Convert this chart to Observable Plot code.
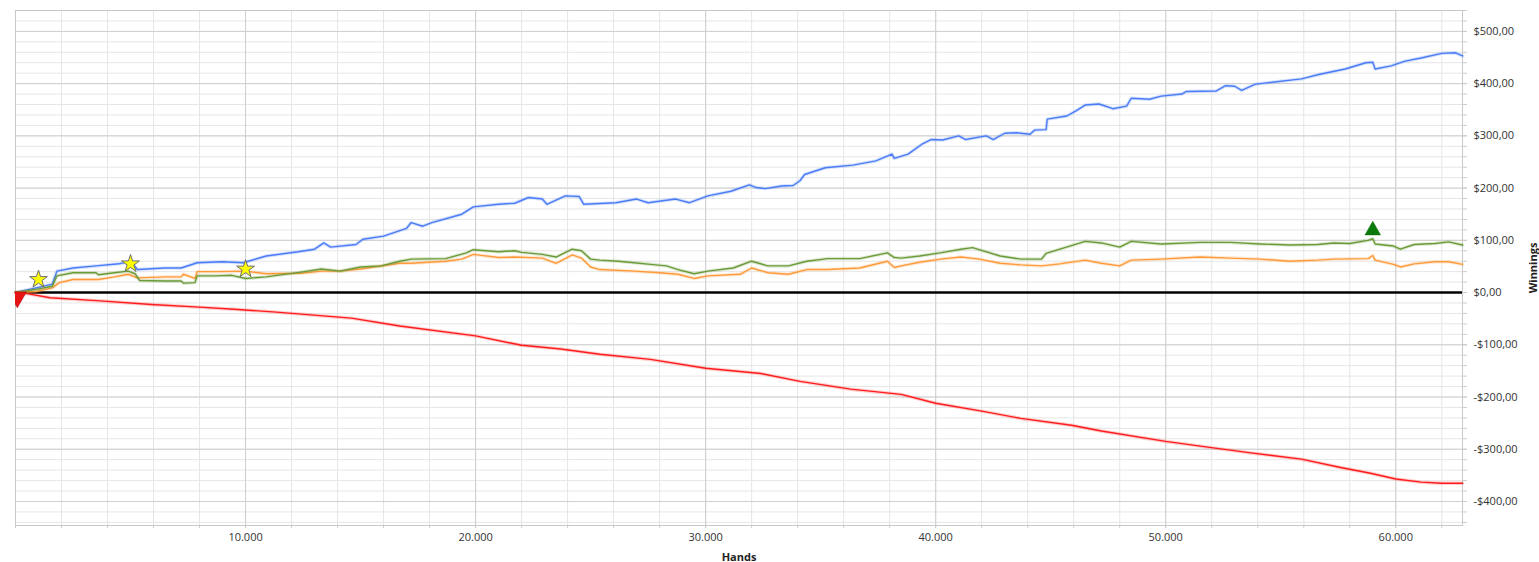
<!DOCTYPE html>
<html>
<head>
<meta charset="utf-8">
<script src="https://cdn.jsdelivr.net/npm/d3@7"></script>
<script src="https://cdn.jsdelivr.net/npm/@observablehq/plot@0.6"></script>
<style>
  html, body { margin: 0; padding: 0; background: #ffffff; overflow: hidden; }
</style>
</head>
<body>
<div id="chart"></div>
<script>
// Hands (thousands) and winnings ($)
const blueHands = [0,0.9,1.6,1.8,2.5,3.5,4.5,5.0,5.3,6.5,7.2,7.9,9.0,9.9,10.9,12.3,13.0,13.4,13.7,14.8,15.1,16.0,17.0,17.2,17.7,18.1,19.4,19.9,21.0,21.7,22.3,22.9,23.1,23.9,24.5,24.7,26.1,27.0,27.5,28.7,29.3,30.1,31.1,31.9,32.2,32.6,33.3,33.8,34.1,34.3,35.2,36.4,37.4,38.1,38.2,38.8,39.4,39.8,40.3,41.0,41.3,42.2,42.5,43.0,43.5,44.1,44.3,44.8,44.85,45.7,46.1,46.5,47.1,47.7,48.3,48.5,49.3,49.8,50.7,50.9,52.2,52.6,53.0,53.3,53.9,54.3,55.9,56.7,57.8,58.7,59.0,59.1,59.8,60.4,61.1,62.0,62.6,62.9];
const blueValues = [0,9,16,41,47,51,55,60,44,47,47,57,59,57,70,78,83,95,87,92,102,108,123,134,127,134,150,164,169,171,182,179,169,185,184,169,172,179,172,179,172,185,194,206,201,199,204,205,214,226,239,244,252,265,257,265,284,293,292,300,293,300,293,305,306,303,311,312,332,338,348,359,361,352,357,372,370,376,380,385,386,396,395,387,399,401,409,418,428,440,441,428,434,443,449,458,459,453];

const greenHands = [0,0.9,1.6,1.8,2.5,3.5,3.6,4.3,4.9,5.2,5.4,6.5,7.2,7.3,7.8,7.9,8.7,9.4,10.0,10.9,12.4,13.3,14.1,15.0,15.9,16.7,17.2,18.7,19.6,19.9,21.0,21.7,22.0,22.9,23.5,24.2,24.6,25.0,25.4,26.2,26.9,27.6,28.3,28.8,29.5,30.1,31.2,32.0,32.7,33.6,34.4,35.3,36.7,37.9,38.2,38.5,39.3,40.2,41.1,41.6,42.8,43.7,44.6,44.8,45.4,46.5,47.2,48.0,48.5,49.8,51.5,52.8,54.1,55.4,56.6,57.3,58.0,58.8,59.0,59.1,59.9,60.2,60.8,61.7,62.3,62.9];
const greenValues = [0,6,12,32,38,38,34,38,41,36,23,22,22,18,19,32,32,33,27,30,39,45,41,49,51,60,64,65,76,82,78,80,77,73,68,83,80,64,62,60,57,54,51,44,36,41,47,60,51,51,60,65,65,76,67,66,70,76,83,86,70,64,64,75,83,98,95,87,98,93,96,96,93,91,92,95,94,100,103,93,89,83,92,94,97,91];

const orangeHands = [0,0.9,1.6,1.9,2.5,3.6,4.3,4.9,5.3,6.5,7.2,7.3,7.8,7.9,8.7,10.0,10.9,12.4,13.3,14.1,15.0,16.7,17.2,18.7,19.4,19.9,21.0,21.7,22.9,23.5,24.2,24.6,25.0,25.4,26.9,28.0,28.8,29.5,30.1,31.5,32.0,32.7,33.6,34.4,35.3,36.7,37.9,38.2,38.5,39.3,40.2,41.1,41.9,42.8,43.7,44.6,45.4,46.5,47.2,48.0,48.5,49.8,51.5,52.8,54.1,55.4,56.6,57.3,58.8,59.0,59.1,59.9,60.2,60.8,61.7,62.3,62.9];
const orangeValues = [0,2,9,19,25,25,30,35,28,30,30,35,27,40,40,41,36,37,41,41,45,56,56,60,64,73,67,68,66,56,72,66,49,44,41,38,35,27,32,35,47,38,35,44,44,47,60,48,51,58,64,68,64,56,53,51,55,62,56,51,62,64,68,66,64,60,62,64,65,71,62,54,49,55,59,59,54];

const redHands = [0,0.5,1.5,3.7,5.9,8.0,9.5,11.2,14.6,16.7,20.0,22.0,23.7,25.4,27.6,30.0,32.4,34.1,36.3,38.5,40.0,42.0,43.7,45.9,47.2,50.0,51.5,53.7,55.9,57.6,58.9,60.0,61.1,62.0,62.9];
const redValues = [0,-2,-10,-16,-23,-28,-32,-37,-49,-64,-83,-101,-108,-118,-128,-145,-155,-170,-185,-195,-212,-227,-241,-254,-265,-285,-294,-307,-319,-335,-346,-357,-363,-365,-365];

const starHands = [1.0, 5.0, 10.0];
const starValues = [25, 55, 45];
const upHands = [59.0];
const upValues = [119];
const downHands = [0.08];
const downValues = [-9];

const xMajorTicks = [10000, 20000, 30000, 40000, 50000, 60000];
const yMajorTicks = [-400, -300, -200, -100, 0, 100, 200, 300, 400, 500];

const xMinorTicks = d3.range(0, 62901, 2000);
const yMinorTicks = d3.range(-440, 541, 20);

function series(hands, values) {
  return hands.map((h, i) => ({h: h * 1000, v: values[i]}));
}
const blue = series(blueHands, blueValues);
const green = series(greenHands, greenValues);
const orange = series(orangeHands, orangeValues);
const red = series(redHands, redValues);
const stars = series(starHands, starValues);
const ups = series(upHands, upValues);
const downs = series(downHands, downValues);

const fmtX = v => d3.format(",")(v).replace(/,/g, ".");
const fmtY = v => (v < 0 ? "-$" : "$") + Math.abs(v) + ",00";

function lineWithHalo(data, color) {
  return [
    Plot.line(data, {x: "h", y: "v", stroke: color, strokeWidth: 3.5, strokeOpacity: 0.22}),
    Plot.line(data, {x: "h", y: "v", stroke: color, strokeWidth: 1.4})
  ];
}

const chart = Plot.plot({
  width: 1539,
  height: 562,
  marginLeft: 15,
  marginRight: 77,
  marginTop: 10,
  marginBottom: 37,
  x: {domain: [0, 62900]},
  y: {domain: [-446, 540]},
  style: {fontFamily: "'Open Sans', 'Noto Sans', sans-serif", fontSize: "11px", color: "#333", background: "#ffffff"},
  marks: [
    Plot.gridX(xMinorTicks, {stroke: "#e6e6e6", strokeOpacity: 1}),
    Plot.gridY(yMinorTicks, {stroke: "#e6e6e6", strokeOpacity: 1}),
    Plot.gridX(xMajorTicks, {stroke: "#cfcfcf", strokeOpacity: 1}),
    Plot.gridY(yMajorTicks, {stroke: "#cfcfcf", strokeOpacity: 1}),
    Plot.axisX(xMinorTicks, {tickSize: 3, stroke: "#cccccc", tickFormat: () => "", label: null}),
    Plot.axisX(xMajorTicks, {tickSize: 3, tickPadding: 5, stroke: "#cccccc", tickFormat: fmtX, label: null, fill: "#333"}),
    Plot.axisY(yMinorTicks, {anchor: "right", tickSize: 4, stroke: "#cccccc", tickFormat: () => "", label: null}),
    Plot.axisY(yMajorTicks, {anchor: "right", tickSize: 4, tickPadding: 7, stroke: "#cccccc", tickFormat: fmtY, label: null, fill: "#333"}),
    Plot.frame({stroke: "#c8c8c8"}),
    Plot.ruleY([0], {stroke: "#000000", strokeWidth: 2.5}),
    ...lineWithHalo(blue, "#4a7cf6"),
    ...lineWithHalo(orange, "#ff9a3a"),
    ...lineWithHalo(green, "#6a9b38"),
    ...lineWithHalo(red, "#ff1c1c"),
    Plot.dot(stars, {x: "h", y: "v", symbol: "star", r: 5.6, fill: "#ffff00", stroke: "#6f6f6f", strokeWidth: 1}),
    Plot.dot(ups, {x: "h", y: "v", symbol: "triangle", r: 5.8, fill: "#0a7a0a", stroke: "#0a6a0a", strokeWidth: 0.5}),
    Plot.dot(downs, {x: "h", y: "v", symbol: "triangle", rotate: 180, r: 6.8, fill: "#e51515", stroke: "#b00", strokeWidth: 0.5, clip: true}),
    Plot.text(["Winnings"], {text: d => d, frameAnchor: "right", dx: 71, rotate: -90, fontWeight: "bold", fontSize: 11, fill: "#222", textAnchor: "middle"}),
    Plot.text(["Hands"], {text: d => d, frameAnchor: "bottom", dy: 35, lineAnchor: "bottom", fontWeight: "bold", fontSize: 11, fill: "#222"})
  ]
});
document.getElementById("chart").appendChild(chart);
</script>
</body>
</html>
